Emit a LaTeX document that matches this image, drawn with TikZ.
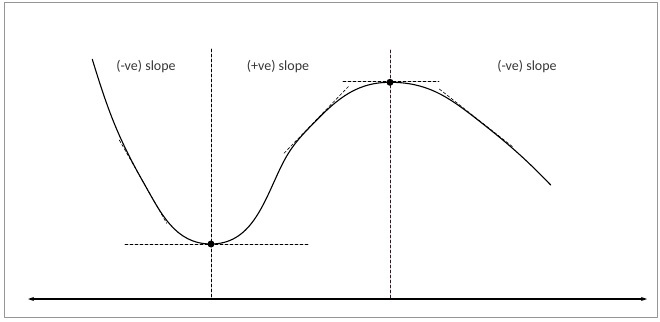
\documentclass[tikz,border=0pt]{standalone}
\usepackage{fontspec}
\setmainfont{Carlito}
\usepackage{xcolor}
\usetikzlibrary{arrows.meta}

\definecolor{framegray}{RGB}{150,150,150}
\definecolor{textgray}{RGB}{55,55,55}
\definecolor{maxline}{RGB}{55,20,45}

\tikzset{
  guide/.style={densely dashed, line width=0.7pt},
  tangent/.style={densely dashed, line width=0.6pt},
  slopelabel/.style={text=textgray, font=\fontsize{14}{16}\selectfont, inner sep=0pt},
  extremum/.style={circle, fill=black, inner sep=0pt, minimum size=7pt}
}

\begin{document}
\begin{tikzpicture}[x=1pt, y=1pt, line join=round, line cap=round]
  \useasboundingbox (0,0) rectangle (660,321);
  % --- FRAME ---
  \draw[framegray, line width=1pt] (4.7,3.3) rectangle (657,318);

  % --- AXIS ---
  \coordinate (axL) at (28,22);
  \coordinate (axR) at (647,22);
  \draw[line width=1.1pt, {Stealth[length=6pt,width=4pt]}-{Stealth[length=6pt,width=4pt]}] (axL) -- (axR);

  % --- STATIONARY POINTS ---
  \coordinate (minP) at (211,77);
  \coordinate (maxP) at (390,238.7);

  % vertical guides
  \coordinate (minTop) at (211,272);
  \coordinate (minBot) at (211,22);
  \coordinate (maxTop) at (390,271);
  \coordinate (maxBot) at (390,22);
  \draw[guide] (minTop) -- (minBot);
  \draw[guide, maxline] (maxTop) -- (maxBot);

  % horizontal tangents at the extrema
  \draw[guide] (125,77) -- (308,77);
  \draw[guide] (343,239.3) -- (439,239.3);

  % --- THE CURVE ---
  \draw[line width=1.1pt]
    (92.3,261.7) to[out=-73, in=119.6] (143,139.35)
                 to[out=-60.4, in=180] (minP)
                 to[out=0, in=-115] (279,150)
                 to[out=65, in=-134] (308,192)
                 to[out=46, in=180] (maxP)
                 to[out=0, in=142] (476,202.5)
                 to[out=-38, in=134] (550.7,136);

  % --- SLOPE TANGENTS ---
  \draw[tangent] (119.3,181) -- (166.7,97.7);
  \draw[tangent] (284,167.7) -- (348.3,234.3);
  \draw[tangent] (439.3,232) -- (513.3,173.7);

  % dots on top
  \node[extremum] (min) at (minP) {};
  \node[extremum] (max) at (maxP) {};

  % --- LABELS ---
  \node[slopelabel] (lblA) at (146,254) {(-ve) slope};
  \node[slopelabel] (lblB) at (278,254) {(+ve) slope};
  \node[slopelabel] (lblC) at (527,254) {(-ve) slope};
\end{tikzpicture}
\end{document}
